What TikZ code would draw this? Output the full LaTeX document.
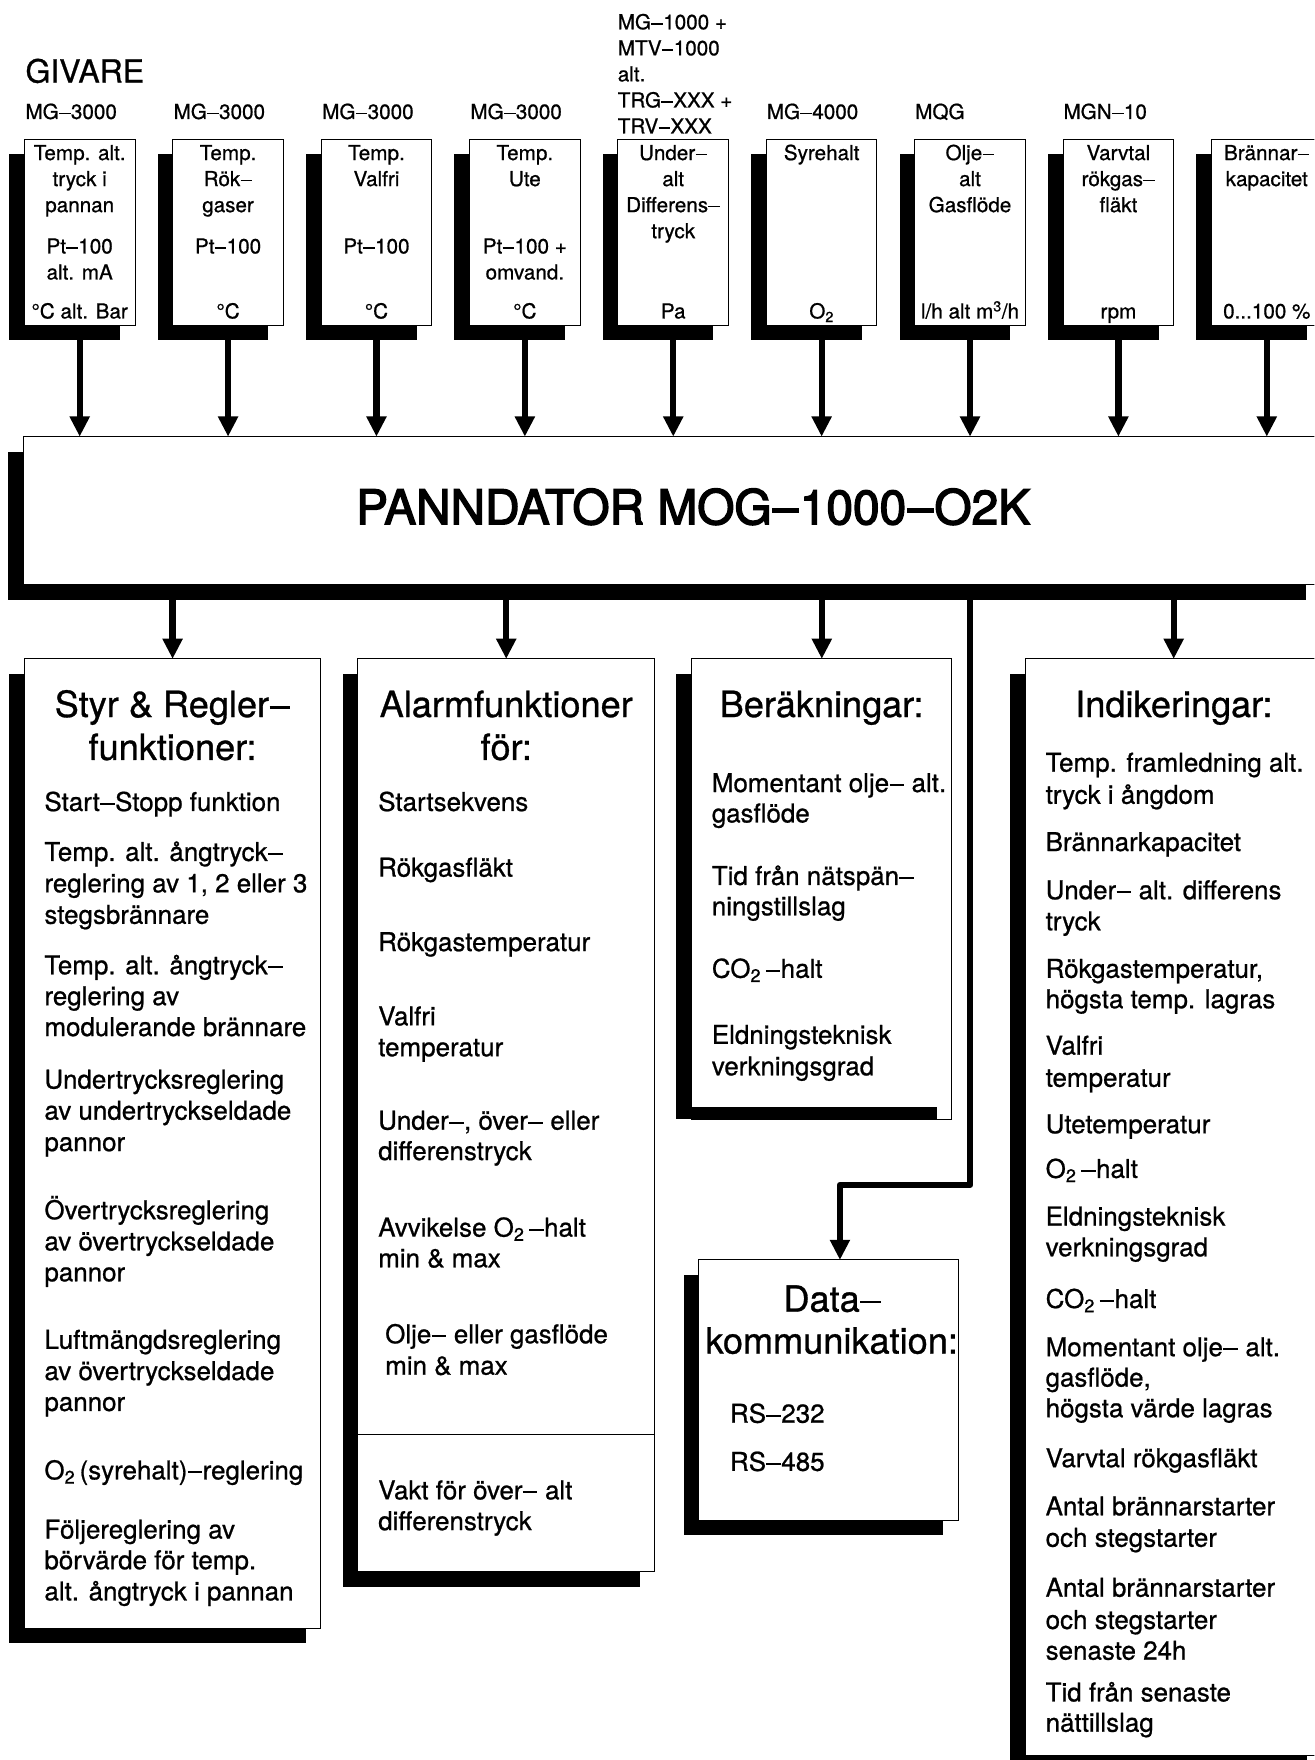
\documentclass[tikz,border=0pt]{standalone}
\usepackage{fontspec}
\usepackage{newunicodechar}
\setmainfont{TeX Gyre Heros}[FakeBold=0.8]
\newfontfamily\titlefont{TeX Gyre Heros}[FakeBold=3]
\def\mnt{0.08em}
\newcommand\mn{\kern0.015em\rule[0.23em]{0.56em}{\mnt}\kern0.015em\relax}
\newunicodechar{−}{\mn}
\usetikzlibrary{arrows.meta,shadows}
\tikzset{
  box/.style={draw,line width=0.9pt,fill=white,inner sep=0pt,outer sep=0pt},
  shbox/.style={box,drop shadow={shadow xshift=-13.5pt,shadow yshift=-13.5pt,fill=black,opacity=1,draw=none}},
  stxt/.style={font=\fontsize{18.4}{22}\selectfont,inner sep=0pt,anchor=base},
  slbl/.style={font=\fontsize{18.4}{22}\selectfont,inner sep=0pt,anchor=base west},
  itm/.style={font=\fontsize{23.1}{28}\selectfont,inner sep=0pt,anchor=base west},
  ttl/.style={font=\fontsize{32.2}{38}\selectfont,inner sep=0pt,anchor=base},
  arr/.style={line width=5.5pt,-{Triangle[length=18pt,width=17pt]}},
}
\begin{document}
\begin{tikzpicture}[x=1pt,y=-1pt]
\path[use as bounding box] (0,0) rectangle (1171,1568);
\clip (0,0) rectangle (1171,1568);
\fill[white] (0,0) rectangle (1171,1568);

% ---------- header labels ----------
\node[font=\fontsize{28.5}{33}\selectfont,inner sep=0pt,anchor=base west] (givare) at (22.5,73.6) {GIVARE};
\node[slbl] (l1) at (22.5,106) {MG−3000};
\node[slbl] (l2) at (154.5,106) {MG−3000};
\node[slbl] (l3) at (286.9,106) {MG−3000};
\node[slbl] (l4) at (418.9,106) {MG−3000};
\node[slbl] (l5a) at (550.2,26.1) {MG−1000 +};
\node[slbl] (l5b) at (550.2,49.3) {MTV−1000};
\node[slbl] (l5c) at (550.2,72.5) {alt.};
\node[slbl] (l5d) at (550.2,95.7) {TRG−XXX +};
\node[slbl] (l5e) at (550.2,118.9) {TRV−XXX};
\node[slbl] (l6) at (683,106) {MG−4000};
\node[slbl] (l7) at (815.2,106) {MQG};
\node[slbl] (l8) at (947.3,106) {MGN−10};

% ---------- sensor boxes ----------
\foreach \i in {1,...,9}
  \node[shbox,minimum width=98.6pt,minimum height=165.6pt] (sb\i) at ({71+132.2*(\i-1)},206.8) {};

% box 1
\node[stxt] (s1a) at (71,142.6) {Temp. alt.};
\node[stxt] (s1b) at (71,165.8) {tryck i};
\node[stxt] (s1c) at (71,189) {pannan};
\node[stxt] (s1d) at (71,225.8) {Pt−100};
\node[stxt] (s1e) at (71,249) {alt. mA};
\node[stxt] (s1f) at (71,283.7) {°C alt. Bar};
% box 2
\node[stxt] (s2a) at (203.2,142.6) {Temp.};
\node[stxt] (s2b) at (203.2,165.8) {Rök−};
\node[stxt] (s2c) at (203.2,189) {gaser};
\node[stxt] (s2d) at (203.2,225.8) {Pt−100};
\node[stxt] (s2f) at (203.2,283.7) {°C};
% box 3
\node[stxt] (s3a) at (335.4,142.6) {Temp.};
\node[stxt] (s3b) at (335.4,165.8) {Valfri};
\node[stxt] (s3d) at (335.4,225.8) {Pt−100};
\node[stxt] (s3f) at (335.4,283.7) {°C};
% box 4
\node[stxt] (s4a) at (467.6,142.6) {Temp.};
\node[stxt] (s4b) at (467.6,165.8) {Ute};
\node[stxt] (s4d) at (467.6,225.8) {Pt−100 +};
\node[stxt] (s4e) at (467.6,249) {omvand.};
\node[stxt] (s4f) at (467.6,283.7) {°C};
% box 5
\node[stxt] (s5a) at (599.8,142.6) {Under−};
\node[stxt] (s5b) at (599.8,165.8) {alt};
\node[stxt] (s5c) at (599.8,189) {Differens−};
\node[stxt] (s5d) at (599.8,212.2) {tryck};
\node[stxt] (s5f) at (599.8,283.7) {Pa};
% box 6
\node[stxt] (s6a) at (732,142.6) {Syrehalt};
\node[stxt] (s6f) at (732,283.7) {O\textsubscript{2}};
% box 7
\node[stxt] (s7a) at (864.2,142.6) {Olje−};
\node[stxt] (s7b) at (864.2,165.8) {alt};
\node[stxt] (s7c) at (864.2,189) {Gasflöde};
\node[stxt] (s7f) at (864.2,283.7) {l/h alt m\textsuperscript{3}/h};
% box 8
\node[stxt] (s8a) at (996.4,142.6) {Varvtal};
\node[stxt] (s8b) at (996.4,165.8) {rökgas−};
\node[stxt] (s8c) at (996.4,189) {fläkt};
\node[stxt] (s8f) at (996.4,283.7) {rpm};
% box 9
\node[stxt] (s9a) at (1128.6,142.6) {Brännar−};
\node[stxt] (s9b) at (1128.6,165.8) {kapacitet};
\node[stxt] (s9f) at (1128.6,283.7) {0...100 \%};

% ---------- main box ----------
\node[shbox,minimum width=1156pt,minimum height=132pt] (main) at (599,455) {};
\node[font=\titlefont\fontsize{42.6}{50}\selectfont\def\mnt{0.105em},inner sep=0pt] (mtitle) at (617.5,451.5) {PANNDATOR MOG−1000−O2K};

\foreach \i in {1,...,9}
  \draw[arr] (sb\i.south) -- (sb\i.south |- main.north);

% ---------- lower boxes ----------
\node[shbox,minimum width=264.1pt,minimum height=863.5pt] (sty) at (153.75,1018.75) {};
\node[shbox,minimum width=264.5pt,minimum height=813pt] (alarm) at (451,993.5) {};
\node[box,minimum width=231.7pt,minimum height=410pt] (ber) at (732.15,792) {};
\fill (602.5,600.5) rectangle (ber.south west);
\fill (602.5,986) rectangle (834.5,997);
\node[shbox,minimum width=231.3pt,minimum height=231.7pt] (data) at (738.35,1238.35) {};
\node[shbox,minimum width=264.7pt,minimum height=977pt] (ind) at (1045.65,1075.5) {};

\coordinate (dv) at (0,1278.4);
\draw[line width=0.9pt] (alarm.west |- dv) -- (alarm.east |- dv);

% arrows from main
\draw[arr] (main.south -| sty.north) -- (sty.north);
\draw[arr] (main.south -| alarm.north) -- (alarm.north);
\draw[arr] (main.south -| ber.north) -- (ber.north);
\draw[arr] (main.south -| ind.north) -- (ind.north);
\coordinate (jx) at (864.5,1055.5);
\coordinate (dx) at (748.3,1055.5);
\draw[arr,line join=round] (jx |- main.south) -- (jx) -- (dx) -- (dx |- data.north);

% ---------- titles ----------
\node[ttl] (styt1) at (153.75,638.8) {Styr \& Regler−};
\node[ttl] (styt2) at (153.75,677) {funktioner:};
\node[ttl] (alt1) at (451,638.8) {Alarmfunktioner};
\node[ttl] (alt2) at (451,677) {för:};
\node[ttl] (bert) at (732,638.8) {Beräkningar:};
\node[ttl] (indt) at (1045.8,638.8) {Indikeringar:};
\node[ttl] (dat1) at (741.5,1168.6) {Data−};
\node[ttl] (dat2) at (741,1205.9) {kommunikation:};

% ---------- items ----------
\foreach \yy/\tx [count=\i] in {
  722.5/{Start−Stopp funktion},
  767/{Temp. alt. ångtryck−},
  795/{reglering av 1, 2 eller 3},
  823/{stegsbrännare},
  868/{Temp. alt. ångtryck−},
  895.5/{reglering av},
  923/{modulerande brännare},
  969.8/{Undertrycksreglering},
  997.5/{av undertryckseldade},
  1025.5/{pannor},
  1086.2/{Övertrycksreglering},
  1114/{av övertryckseldade},
  1141.5/{pannor},
  1201.6/{Luftmängdsreglering},
  1229.5/{av övertryckseldade},
  1257/{pannor},
  1318/{O\textsubscript{2}\,(syrehalt)−reglering},
  1370.7/{Följereglering av},
  1398/{börvärde för temp.},
  1425.8/{alt. ångtryck i pannan}}
  \node[itm] (sty\i) at (39.4,\yy) {\tx};

\foreach \xx/\yy/\tx [count=\i] in {
  336.8/722.5/{Startsekvens},
  336.8/781/{Rökgasfläkt},
  336.8/847.3/{Rökgastemperatur},
  336.8/913.5/{Valfri},
  336.8/941/{temperatur},
  336.8/1006.4/{Under−, över− eller},
  336.8/1033.5/{differenstryck},
  336.8/1101.7/{Avvikelse O\textsubscript{2}\,−halt},
  336.8/1129/{min \& max},
  343/1196.7/{Olje− eller gasflöde},
  343/1224.7/{min \& max},
  336.8/1335.8/{Vakt för över− alt},
  336.8/1363.2/{differenstryck}}
  \node[itm] (al\i) at (\xx,\yy) {\tx};

\foreach \yy/\tx [count=\i] in {
  705.6/{Momentant olje− alt.},
  732.7/{gasflöde},
  788.4/{Tid från nätspän−},
  815.4/{ningstillslag},
  871.1/{CO\textsubscript{2}\,−halt},
  930/{Eldningsteknisk},
  958/{verkningsgrad}}
  \node[itm] (be\i) at (634,\yy) {\tx};

\node[itm] (rs1) at (650.2,1267.5) {RS−232};
\node[itm] (rs2) at (650.2,1310.4) {RS−485};

\foreach \yy/\tx [count=\i] in {
  687.5/{Temp. framledning alt.},
  716.1/{tryck i ångdom},
  758.2/{Brännarkapacitet},
  801.1/{Under− alt. differens},
  828.8/{tryck},
  871.1/{Rökgastemperatur,},
  898.2/{högsta temp. lagras},
  939.6/{Valfri},
  968.2/{temperatur},
  1009.6/{Utetemperatur},
  1049.4/{O\textsubscript{2}\,−halt},
  1091.8/{Eldningsteknisk},
  1119.2/{verkningsgrad},
  1165.3/{CO\textsubscript{2}\,−halt},
  1208.2/{Momentant olje− alt.},
  1235.3/{gasflöde,},
  1262.6/{högsta värde lagras},
  1307.1/{Varvtal rökgasfläkt},
  1350/{Antal brännarstarter},
  1378/{och stegstarter},
  1422.5/{Antal brännarstarter},
  1451.2/{och stegstarter},
  1478.6/{senaste 24h},
  1515.8/{Tid från senaste},
  1542.8/{nättillslag}}
  \node[itm] (in\i) at (931.4,\yy) {\tx};
\end{tikzpicture}
\end{document}
